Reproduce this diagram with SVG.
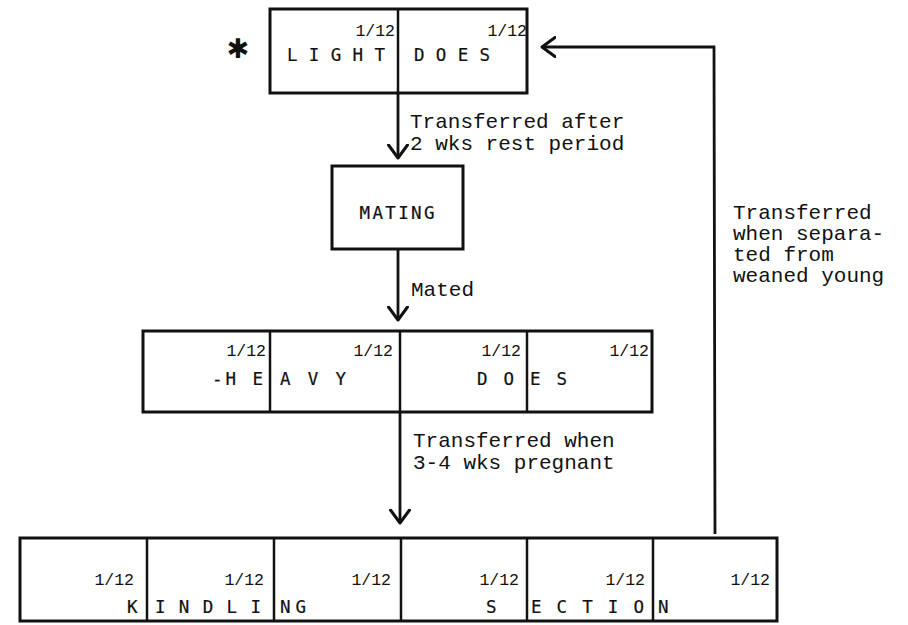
<svg xmlns="http://www.w3.org/2000/svg" width="908" height="625" viewBox="0 0 908 625">
<style>
.box{fill:none;stroke:#111;stroke-width:3;stroke-linejoin:miter}
.div{stroke:#111;stroke-width:2.5}
.con{fill:none;stroke:#111;stroke-width:2.8}
.frac{font-family:"Liberation Mono","DejaVu Sans Mono",monospace;font-size:16.5px;fill:#111;text-anchor:end}
.lbl{font-family:"DejaVu Sans Mono","Liberation Mono",monospace;font-size:17.5px;fill:#111;stroke:#111;stroke-width:0.2}
.note{font-family:"Liberation Mono","Courier New",monospace;font-size:21px;fill:#111}
</style>
<defs>
<marker id="arr" markerUnits="userSpaceOnUse" viewBox="0 0 16 22" refX="14" refY="11" markerWidth="16" markerHeight="22" orient="auto">
<path d="M1,1.5 L14,11 L1,20.5" fill="none" stroke="#111" stroke-width="3" stroke-linecap="round" stroke-linejoin="round"/>
</marker>
</defs>
<rect width="908" height="625" fill="#fff"/>

<g id="connectors">
<line class="con" x1="398" y1="93" x2="398" y2="158" marker-end="url(#arr)"/>
<line class="con" x1="398" y1="249" x2="398" y2="320" marker-end="url(#arr)"/>
<line class="con" x1="400" y1="412" x2="400" y2="523" marker-end="url(#arr)"/>
<polyline class="con" points="715,534 714,47 542,47" marker-end="url(#arr)"/>
<text class="note" x="410" y="128">Transferred after</text>
<text class="note" x="410" y="150">2 wks rest period</text>
<text class="note" x="411" y="296">Mated</text>
<text class="note" x="413" y="447">Transferred when</text>
<text class="note" x="413" y="469">3-4 wks pregnant</text>
<text class="note" x="733" y="219">Transferred</text>
<text class="note" x="733" y="240">when separa-</text>
<text class="note" x="733" y="261">ted from</text>
<text class="note" x="733" y="282">weaned young</text>
</g>

<g id="light-does">
<text x="238" y="58" font-family="DejaVu Sans,sans-serif" font-size="27" text-anchor="middle" fill="#111">✱</text>
<rect class="box" x="270" y="9" width="257" height="84"/>
<line class="div" x1="398" y1="9" x2="398" y2="93"/>
<text class="frac" x="395" y="36">1/12</text>
<text class="frac" x="527" y="36">1/12</text>
<text class="lbl" x="287" y="61" textLength="98" lengthAdjust="spacing">L I G H T</text>
<text class="lbl" x="414" y="61" textLength="76" lengthAdjust="spacing">D O E S</text>
</g>

<g id="mating">
<rect class="box" x="332" y="166" width="131" height="83"/>
<text class="lbl" x="397" y="219" text-anchor="middle" textLength="75" lengthAdjust="spacing">MATING</text>
</g>

<g id="heavy-does">
<rect class="box" x="143" y="331" width="509" height="81"/>
<line class="div" x1="270" y1="331" x2="270" y2="412"/>
<line class="div" x1="400" y1="331" x2="400" y2="412"/>
<line class="div" x1="527" y1="331" x2="527" y2="412"/>
<text class="frac" x="266" y="356">1/12</text>
<text class="frac" x="393" y="356">1/12</text>
<text class="frac" x="521" y="356">1/12</text>
<text class="frac" x="649" y="356">1/12</text>
<text class="lbl" x="212" y="385" textLength="51" lengthAdjust="spacing">-H E</text>
<text class="lbl" x="280" y="385" textLength="66" lengthAdjust="spacing">A V Y</text>
<text class="lbl" x="477" y="385" textLength="37" lengthAdjust="spacing">D O</text>
<text class="lbl" x="530" y="385" textLength="37" lengthAdjust="spacing">E S</text>
</g>

<g id="kindling-section">
<rect class="box" x="20" y="538" width="757" height="83"/>
<line class="div" x1="147" y1="538" x2="147" y2="621"/>
<line class="div" x1="274" y1="538" x2="274" y2="621"/>
<line class="div" x1="401" y1="538" x2="401" y2="621"/>
<line class="div" x1="527" y1="538" x2="527" y2="621"/>
<line class="div" x1="653" y1="538" x2="653" y2="621"/>
<text class="frac" x="134" y="585">1/12</text>
<text class="frac" x="264" y="585">1/12</text>
<text class="frac" x="391" y="585">1/12</text>
<text class="frac" x="519" y="585">1/12</text>
<text class="frac" x="645" y="585">1/12</text>
<text class="frac" x="770" y="585">1/12</text>
<text class="lbl" x="127" y="613">K</text>
<text class="lbl" x="155" y="613" textLength="106" lengthAdjust="spacing">I N D L I</text>
<text class="lbl" x="280" y="613" textLength="26" lengthAdjust="spacing">N G</text>
<text class="lbl" x="486" y="613">S</text>
<text class="lbl" x="531" y="613" textLength="113" lengthAdjust="spacing">E C T I O</text>
<text class="lbl" x="658" y="613">N</text>
</g>
</svg>
